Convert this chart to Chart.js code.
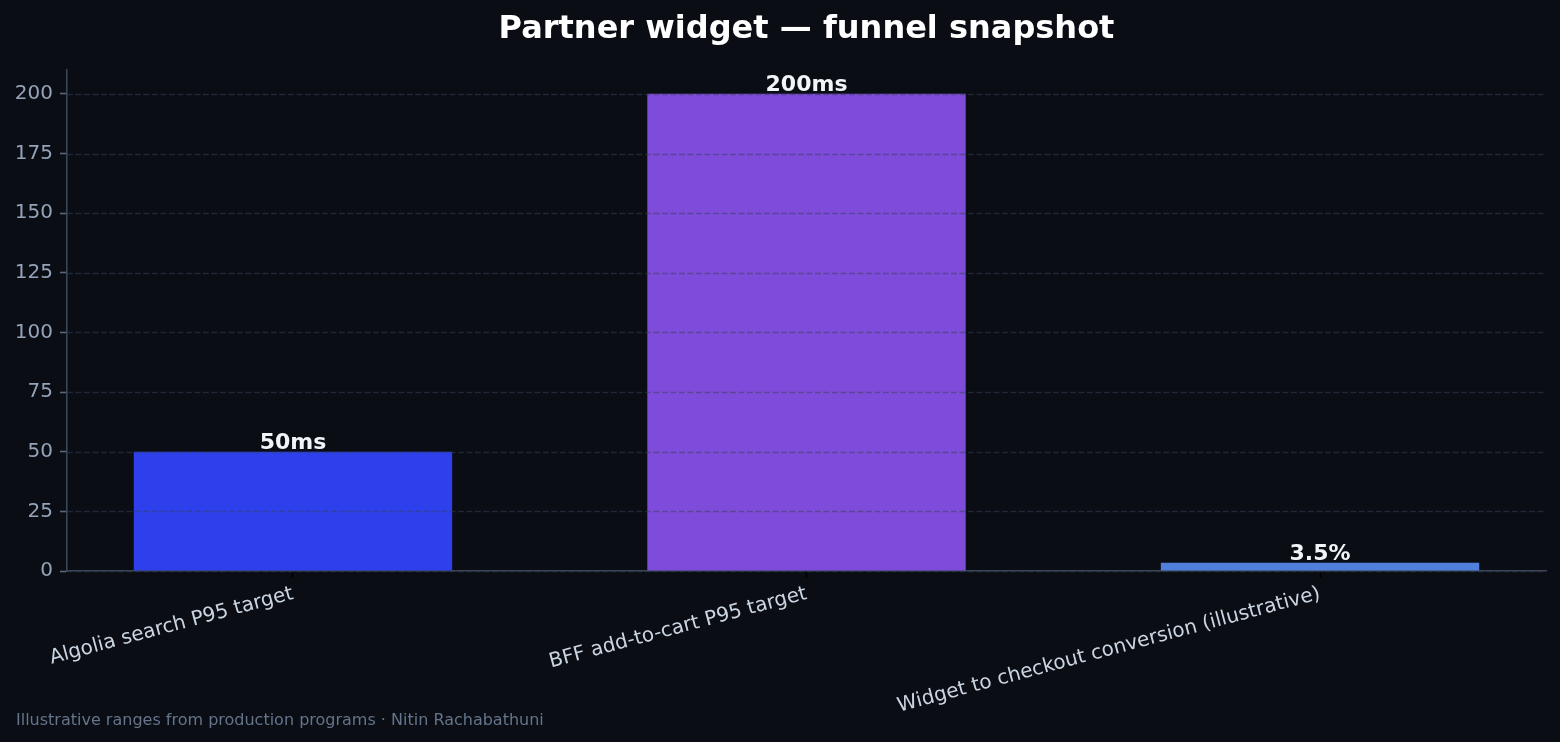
<!DOCTYPE html>
<html>
<head>
<meta charset="utf-8">
<script src="https://cdn.jsdelivr.net/npm/chart.js@4/dist/chart.umd.min.js"></script>
<style>
  html, body { margin: 0; padding: 0; background: #0a0d14; }
  #wrap { width: 1560px; height: 742px; position: relative; background: #0a0d14; }
</style>
</head>
<body>
<div id="wrap"><canvas id="c"></canvas></div>
<script>
// ---- data ----
const categories = [
  'Algolia search P95 target',
  'BFF add-to-cart P95 target',
  'Widget to checkout conversion (illustrative)'
];
const values = [50, 200, 3.5];
const valueLabels = ['50ms', '200ms', '3.5%'];
const barColors = ['#2e40eb', '#7f4bda', '#5080db'];
const yTickValues = [0, 25, 50, 75, 100, 125, 150, 175, 200];
const titleText = 'Partner widget \u2014 funnel snapshot';
const footerText = 'Illustrative ranges from production programs \u00b7 Nitin Rachabathuni';

Chart.defaults.font.family = "'DejaVu Sans', 'Liberation Sans', sans-serif";

const overlayPlugin = {
  id: 'overlay',
  afterDatasetsDraw(chart) {
    const ctx = chart.ctx;
    const area = chart.chartArea;
    const y = chart.scales.y;
    // dashed grid drawn above the bars
    ctx.save();
    ctx.strokeStyle = 'rgba(51,65,85,0.5)';
    ctx.lineWidth = 1.5;
    ctx.setLineDash([5.9, 2.6]);
    yTickValues.forEach(v => {
      const py = Math.round(y.getPixelForValue(v)) + 0.5;
      ctx.beginPath();
      ctx.moveTo(area.left, py);
      ctx.lineTo(area.right, py);
      ctx.stroke();
    });
    ctx.restore();
    // value labels
    const meta = chart.getDatasetMeta(0);
    ctx.save();
    ctx.fillStyle = '#f1f5f9';
    ctx.font = "bold 22px 'DejaVu Sans'";
    ctx.textAlign = 'center';
    ctx.textBaseline = 'alphabetic';
    meta.data.forEach((bar, i) => {
      ctx.fillText(valueLabels[i], bar.x, bar.y - 2.5);
    });
    ctx.restore();
  },
  afterDraw(chart) {
    const ctx = chart.ctx;
    ctx.save();
    ctx.fillStyle = '#64748b';
    ctx.font = "16px 'DejaVu Sans'";
    ctx.textAlign = 'left';
    ctx.textBaseline = 'alphabetic';
    ctx.fillText(footerText, 16, 725);
    ctx.restore();
  }
};

new Chart(document.getElementById('c'), {
  type: 'bar',
  data: {
    datasets: [{
      data: values.map((v, i) => ({ x: i, y: v })),
      backgroundColor: barColors,
      borderWidth: 0,
      categoryPercentage: 1,
      barPercentage: 0.62
    }]
  },
  options: {
    responsive: true,
    maintainAspectRatio: false,
    animation: false,
    layout: { padding: { left: 0, right: 14, top: 0, bottom: 0 } },
    plugins: {
      legend: { display: false },
      tooltip: { enabled: false },
      title: {
        display: true,
        text: titleText,
        fullSize: false,
        color: '#ffffff',
        font: { size: 32, weight: 'bold' },
        padding: { top: 10, bottom: 21.6 }
      }
    },
    scales: {
      x: {
        type: 'linear',
        min: -0.44,
        max: 2.44,
        offset: false,
        z: 1,
        afterBuildTicks(scale) { scale.ticks = categories.map((c, i) => ({ value: i })); },
        afterFit(scale) { scale.height = 171; },
        border: { display: true, color: '#3b4557', width: 1.6 },
        grid: { offset: false, drawOnChartArea: false, drawTicks: true, tickLength: 7, tickColor: '#000000', tickWidth: 1.6 },
        ticks: {
          autoSkip: false,
          minRotation: 15,
          maxRotation: 15,
          padding: 4,
          color: '#cbd5e1',
          font: { size: 20 },
          callback: (v) => categories[v]
        }
      },
      y: {
        min: 0,
        max: 210,
        afterBuildTicks(scale) { scale.ticks = yTickValues.map(v => ({ value: v })); },
        afterFit(scale) { scale.width = 67; },
        border: { display: true, color: '#3b4557', width: 1.6 },
        grid: { drawOnChartArea: false, drawTicks: true, tickLength: 7, tickColor: '#5a6678', tickWidth: 1.6 },
        ticks: {
          padding: 7,
          color: '#94a3b8',
          font: { size: 20 }
        }
      }
    }
  },
  plugins: [overlayPlugin]
});
</script>
</body>
</html>
